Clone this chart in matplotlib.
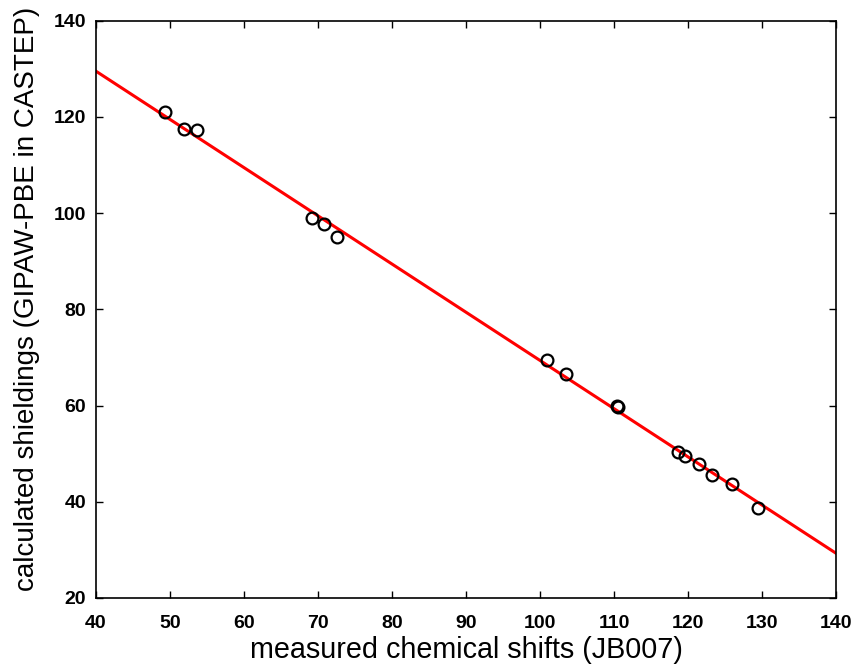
import matplotlib
matplotlib.use("Agg")
import matplotlib.pyplot as plt
import numpy as np

measured = [49.3, 51.9, 53.6, 69.2, 70.8, 72.5, 101.0, 103.5, 110.4, 110.6,
            118.6, 119.6, 121.5, 123.2, 126.0, 129.4]
calculated = [121.0, 117.5, 117.2, 99.0, 97.8, 95.0, 69.5, 66.6, 59.9, 59.6,
              50.3, 49.5, 47.9, 45.6, 43.8, 38.8]
fit_x = [40, 140]
fit_y = [129.5, 29.3]

xticks = [40, 50, 60, 70, 80, 90, 100, 110, 120, 130, 140]
yticks = [20, 40, 60, 80, 100, 120, 140]

fam = "Liberation Sans"

fig = plt.figure(figsize=(8.56, 6.66), dpi=100)
ax = fig.add_axes([96/856, 1-598/666, (836-96)/856, (598-20.7)/666])

ax.plot(fit_x, fit_y, color="#ff0000", lw=2.2, zorder=2)
ax.plot(measured, calculated, "o", mfc="none", mec="black", mew=1.6, ms=8.5, zorder=3)

ax.set_xlim(40, 140)
ax.set_ylim(20, 140)
ax.set_xticks(xticks)
ax.set_yticks(yticks)
ax.tick_params(direction="in", top=True, right=True, length=5, width=1)
ax.tick_params(axis="x", pad=12)
ax.tick_params(axis="y", pad=7)
for lab in ax.get_xticklabels() + ax.get_yticklabels():
    lab.set_fontfamily(fam)
    lab.set_fontweight("bold")
    lab.set_fontsize(14)
for s in ax.spines.values():
    s.set_linewidth(1.2)

ax.set_xlabel("measured chemical shifts (JB007)", fontfamily=fam,
              fontsize=20.7, labelpad=3)
ax.set_ylabel("calculated shieldings (GIPAW-PBE in CASTEP)", fontfamily=fam,
              fontsize=20)
ax.yaxis.set_label_coords(-0.076, 0.518)

fig.savefig("out.png", dpi=100)
